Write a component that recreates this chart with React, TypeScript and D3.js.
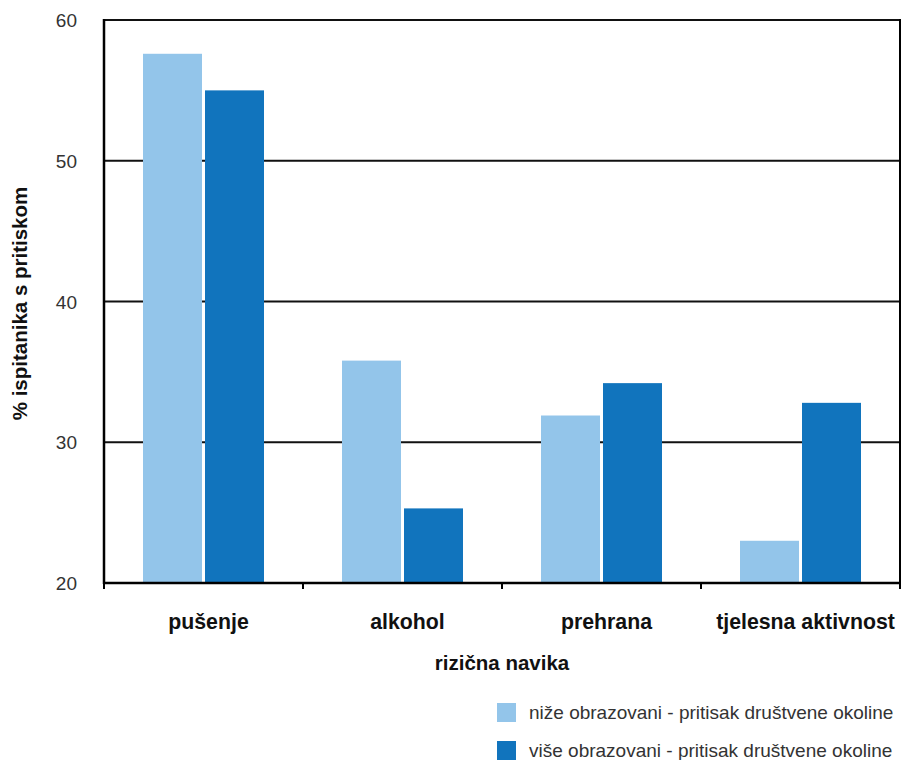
import React from "react";
import * as d3 from "d3";

const categories = ["pušenje", "alkohol", "prehrana", "tjelesna aktivnost"];
const seriesNames = [
  "niže obrazovani - pritisak društvene okoline",
  "više obrazovani - pritisak društvene okoline",
];
const nizeValues = [57.6, 35.8, 31.9, 23.0];
const viseValues = [55.0, 25.3, 34.2, 32.8];
const yTicks = [20, 30, 40, 50, 60];
const colors = ["#93C5EA", "#1174BD"];

const W = 902;
const H = 760;
const M = { left: 104, right: 902, top: 20, bottom: 583 };
const FONT = "'Liberation Sans', Arial, Helvetica, sans-serif";

export default function App() {
  const x = d3.scaleBand<string>().domain(categories).range([M.left, M.right - 2]).padding(0);
  const y = d3.scaleLinear().domain([20, 60]).range([M.bottom, M.top]);
  const barW = 59;
  const gap = 3;
  const series = [nizeValues, viseValues];
  const bw = x.bandwidth();
  const groupW = barW * 2 + gap;
  const boundaries = [...categories.map((c) => x(c)!), x(categories[categories.length - 1])! + bw];

  return (
    <svg width={W} height={H} style={{ position: "absolute", left: 0, top: 0, background: "#fff" }} fontFamily={FONT}>
      {yTicks.filter((t) => t !== 20).map((t) => (
        <line key={t} x1={M.left} x2={M.right - 2} y1={y(t)} y2={y(t)} stroke="#111" strokeWidth={2} />
      ))}
      {categories.map((c, i) =>
        series.map((s, j) => {
          const x0 = x(c)! + (bw - groupW) / 2 + j * (barW + gap);
          return (
            <rect key={c + j} x={x0} y={y(s[i])} width={barW} height={y(20) - y(s[i])} fill={colors[j]} />
          );
        })
      )}
      <line x1={M.left} x2={M.left} y1={M.top - 1} y2={M.bottom + 1} stroke="#000" strokeWidth={2.5} />
      <line x1={M.right - 2} x2={M.right - 2} y1={M.top - 1} y2={M.bottom + 1} stroke="#000" strokeWidth={2} />
      <line x1={M.left} x2={M.right - 1} y1={M.bottom} y2={M.bottom} stroke="#000" strokeWidth={2.5} />
      {boundaries.map((b, i) => (
        <line key={i} x1={b} x2={b} y1={M.bottom} y2={M.bottom + 6} stroke="#000" strokeWidth={2} />
      ))}
      {yTicks.map((t) => (
        <text key={t} x={77} y={y(t)} dy="0.38em" textAnchor="end" fontSize={19} fill="#333">
          {t}
        </text>
      ))}
      {categories.map((c) => (
        <text key={c} x={x(c)! + bw / 2 + 5} y={629} textAnchor="middle" fontSize={21.3} fontWeight="bold" fill="#111">
          {c}
        </text>
      ))}
      <text x={502} y={670} textAnchor="middle" fontSize={20.5} fontWeight="bold" fill="#111">
        rizična navika
      </text>
      <text
        transform={`translate(27, ${(M.top + M.bottom) / 2 + 2}) rotate(-90)`}
        textAnchor="middle"
        fontSize={20.5}
        fontWeight="bold"
        fill="#111"
      >
        % ispitanika s pritiskom
      </text>
      {seriesNames.map((n, j) => (
        <g key={n} transform={`translate(497, ${703 + j * 38})`}>
          <rect width={19} height={19} fill={colors[j]} />
          <text x={32} y={16} fontSize={19} fill="#333">
            {n}
          </text>
        </g>
      ))}
    </svg>
  );
}
